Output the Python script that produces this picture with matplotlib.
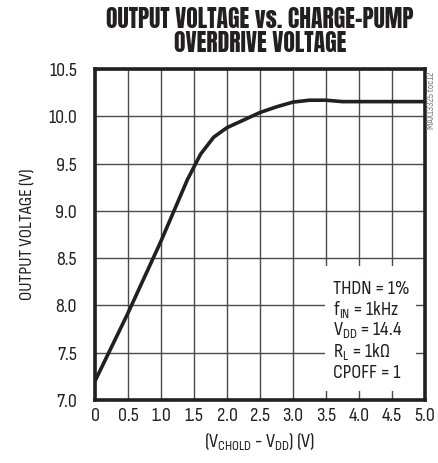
import numpy as np
import matplotlib
matplotlib.use('Agg')
import matplotlib.pyplot as plt
from matplotlib.patches import Rectangle

# curve
overdrive = [0.0, 0.5, 1.0, 1.4, 1.6, 1.8, 2.0, 2.25, 2.5, 2.75, 3.0, 3.25, 3.5, 3.75, 4.0, 4.5, 5.0]
vout = [7.2, 7.92, 8.68, 9.33, 9.6, 9.78, 9.88, 9.96, 10.04, 10.1, 10.15, 10.17, 10.17, 10.155, 10.155, 10.155, 10.155]

xticks = [0, 0.5, 1.0, 1.5, 2.0, 2.5, 3.0, 3.5, 4.0, 4.5, 5.0]
xlabels = ['0', '0.5', '1.0', '1.5', '2.0', '2.5', '3.0', '3.5', '4.0', '4.5', '5.0']
yticks = [7.0, 7.5, 8.0, 8.5, 9.0, 9.5, 10.0, 10.5]
ylabels = ['7.0', '7.5', '8.0', '8.5', '9.0', '9.5', '10.0', '10.5']

conditions = ['THDN = 1%',
              'f$_{\\mathregular{IN}}$ = 1kHz',
              'V$_{\\mathregular{DD}}$ = 14.4',
              'R$_{\\mathregular{L}}$ = 1k$\\mathregular{\\Omega}$',
              'CPOFF = 1']

plt.rcParams['font.family'] = ['Sofia Sans Condensed', 'Roboto Condensed', 'DejaVu Sans']

fig = plt.figure(figsize=(4.38, 4.63), dpi=100)
ax = fig.add_axes([95/438, 1 - 400/463, 330/438, 331/463])

ax.plot(overdrive, vout, color='#231f20', lw=2.6, solid_capstyle='round', zorder=4)

ax.set_xlim(0, 5.0)
ax.set_ylim(7.0, 10.5)
ax.set_xticks(xticks)
ax.set_xticklabels(xlabels)
ax.set_yticks(yticks)
ax.set_yticklabels(ylabels)
ax.tick_params(length=0, labelsize=14.5, colors='#231f20')
ax.tick_params(axis='y', pad=13)
ax.tick_params(axis='x', pad=5)
ax.grid(True, color='#4a4a4a', lw=1.0)
ax.set_axisbelow(True)
for s in ax.spines.values():
    s.set_linewidth(2.6)
    s.set_color('#231f20')

# white box behind the conditions text
ax.add_patch(Rectangle((3.48, 7.1), 1.38, 1.32, facecolor='white', edgecolor='none', zorder=2))
for i, t in enumerate(conditions):
    ax.text(3.6, 8.17 - i * 0.222, t, fontsize=14.5, color='#231f20', va='center', ha='left', zorder=5)

ax.set_xlabel('(V$_{\\mathregular{CHOLD}}$ - V$_{\\mathregular{DD}}$) (V)', fontsize=14.5, color='#231f20', labelpad=4)
ax.set_ylabel('OUTPUT VOLTAGE (V)', fontsize=13.5, color='#231f20', labelpad=9)

fig.text(260/438, 1 - 31/463, 'OUTPUT VOLTAGE vs. CHARGE-PUMP\nOVERDRIVE VOLTAGE',
         ha='center', va='center', fontsize=17, family=['Anton', 'DejaVu Sans'],
         color='#231f20', linespacing=1.0)
fig.text(431/438, 1 - 72/463, 'MAX13325 toc12', rotation=90, ha='center', va='top',
         fontsize=7.5, color='#777777')

plt.savefig('out.png', dpi=100)
